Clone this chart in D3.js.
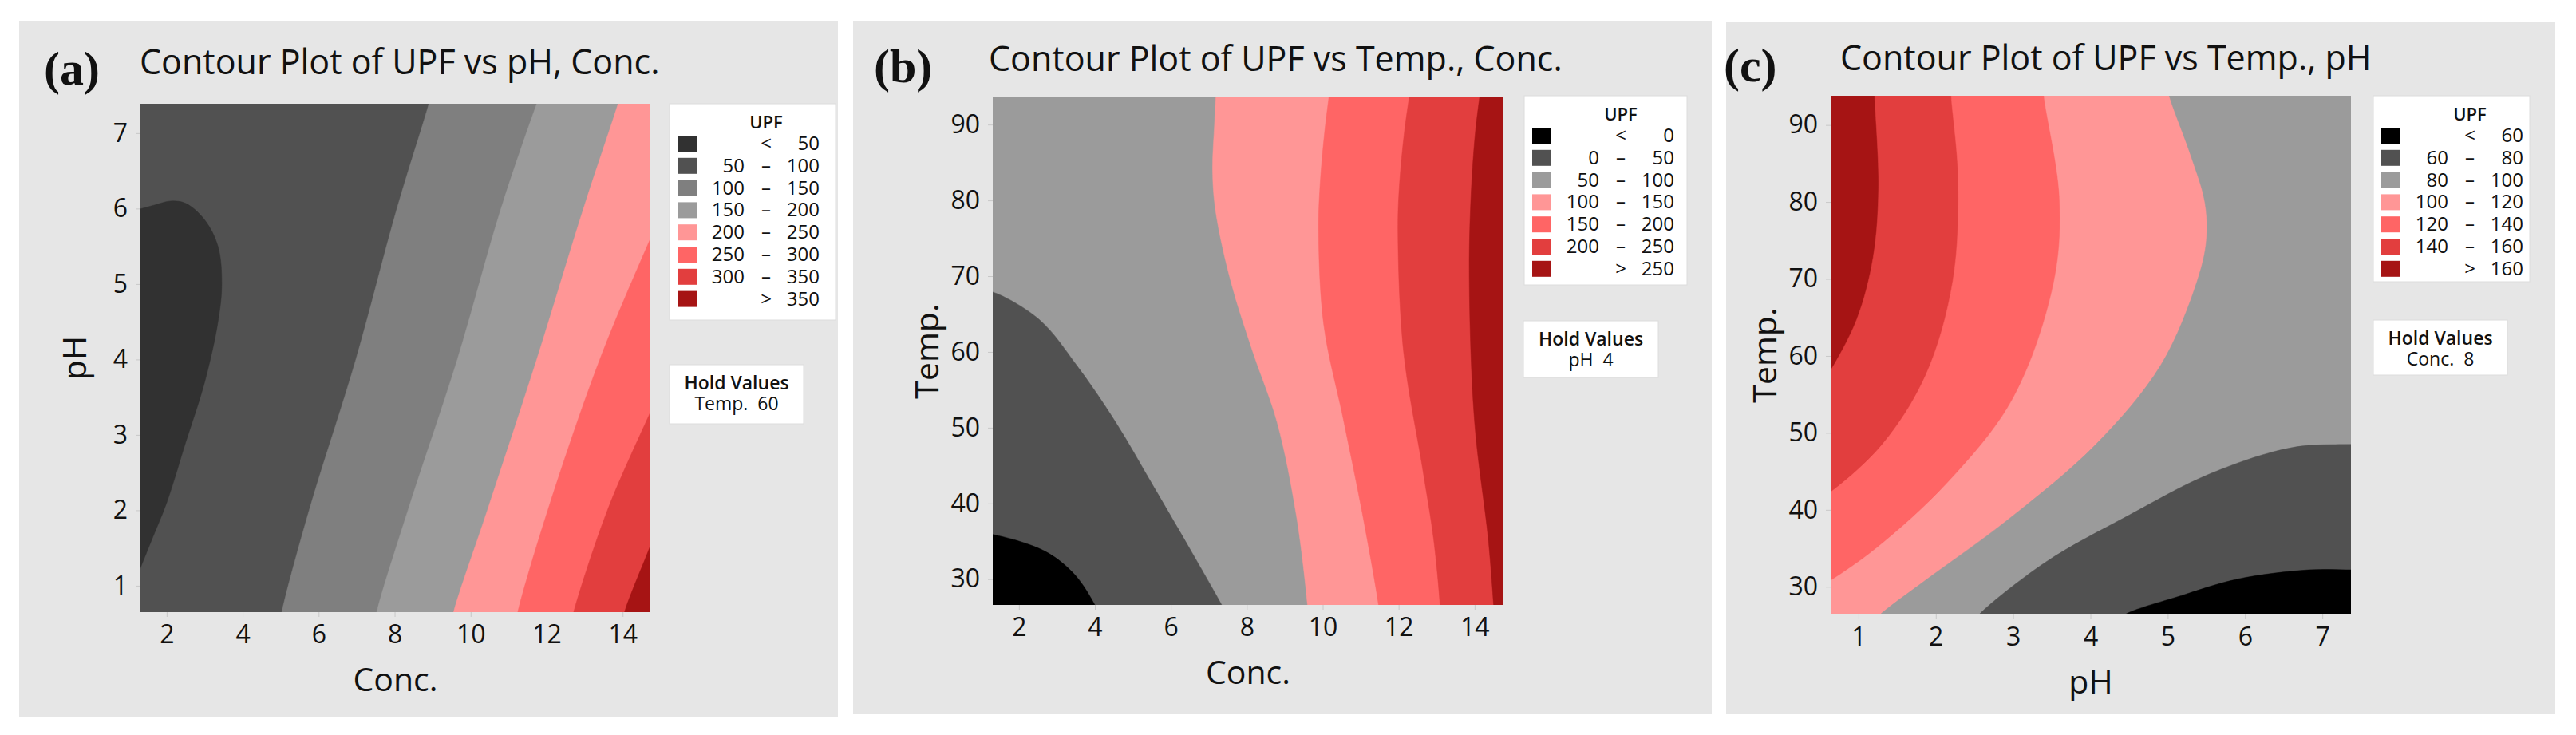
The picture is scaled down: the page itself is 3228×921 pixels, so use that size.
<!DOCTYPE html>
<html><head><meta charset="utf-8">
<script src="https://cdn.jsdelivr.net/npm/d3@7"></script>
<style>body{margin:0;background:#fff}svg text{font-family:"Open Sans","Noto Sans",sans-serif;fill:#111}</style>
</head><body><svg id="c" width="3228" height="921"></svg>
<script>
// ---------- DATA ----------
const titlesA = ["(a)", "Contour Plot of UPF vs pH, Conc."];
const titlesB = ["(b)", "Contour Plot of UPF vs Temp., Conc."];
const titlesC = ["(c)", "Contour Plot of UPF vs Temp., pH"];
const levelsA = [["","<","50"],["50","–","100"],["100","–","150"],["150","–","200"],["200","–","250"],["250","–","300"],["300","–","350"],["",">","350"]];
const levelsB = [["","<","0"],["0","–","50"],["50","–","100"],["100","–","150"],["150","–","200"],["200","–","250"],["",">","250"]];
const levelsC = [["","<","60"],["60","–","80"],["80","–","100"],["100","–","120"],["120","–","140"],["140","–","160"],["",">","160"]];
const colorsA = ["#313131","#515151","#7f7f7f","#9b9b9b","#ff9696","#ff6565","#e23e3e","#a61414"];
const colorsB = ["#000000","#515151","#9b9b9b","#ff9696","#ff6565","#e23e3e","#a61414"];
const colorsC = ["#000000","#515151","#9b9b9b","#ff9696","#ff6565","#e23e3e","#a61414"];
const holdA = ["Temp.  60"], holdB = ["pH  4"], holdC = ["Conc.  8"];
const xTicksA = [2,4,6,8,10,12,14], yTicksA = [1,2,3,4,5,6,7];
const xTicksB = [2,4,6,8,10,12,14], yTicksB = [30,40,50,60,70,80,90];
const xTicksC = [1,2,3,4,5,6,7],    yTicksC = [30,40,50,60,70,80,90];
const domainA = [[1.31,14.73],[0.65,7.39]];
const domainB = [[1.31,14.76],[26.6,93.6]];
const domainC = [[0.64,7.37],[26.4,93.8]];
// contour bands: base level, then polygons [level, boundary points, closing corners]
const baseA = 1;
const bandsA = [
 [0, [[1.2,1.1],[1.6,1.6],[2.0,2.1],[2.5,2.9],[3.0,3.7],[3.35,4.5],[3.45,5.0],[3.35,5.5],[3.0,5.85],[2.5,6.07],[2.1,6.1],[1.7,6.05],[1.2,5.98]], [[0,5.98],[0,1.1]]],
 [2, [[4.95,0.4],[5.03,0.65],[5.75,2],[6.98,4],[8.06,6],[8.9,7.39],[9.0,7.6]], [[20,7.6],[20,0.4]]],
 [3, [[7.45,0.4],[7.53,0.65],[8.35,2],[9.65,4],[10.8,6],[11.74,7.39],[11.9,7.6]], [[20,7.6],[20,0.4]]],
 [4, [[9.45,0.4],[9.55,0.65],[10.44,2],[11.74,4],[12.97,6],[13.88,7.39],[14.0,7.6]], [[20,7.6],[20,0.4]]],
 [5, [[11.15,0.4],[11.24,0.65],[12.03,2],[13.4,4],[14.73,5.6],[15.0,5.9]], [[20,5.9],[20,0.4]]],
 [6, [[12.6,0.4],[12.71,0.65],[13.6,2],[14.73,3.3],[15.0,3.6]], [[20,3.6],[20,0.4]]],
 [7, [[13.95,0.4],[14.05,0.65],[14.73,1.53],[15.0,1.9]], [[20,1.9],[20,0.4]]]
];
const baseB = 2;
const bandsB = [
 [1, [[1.0,68.0],[1.31,67.9],[2.53,64.3],[3.54,58.1],[4.55,50.7],[5.56,42.1],[6.57,33.4],[7.34,26.6],[7.45,25.5]], [[0,25.5],[0,68]]],
 [0, [[1.0,36.0],[1.31,35.9],[2.68,33.7],[3.47,30.6],[4.0,26.6],[4.1,25.5]], [[0,25.5],[0,36]]],
 [3, [[7.2,95],[7.15,90],[7.1,84],[7.18,78.6],[7.58,69.3],[8.16,60],[8.8,50.7],[9.31,38.3],[9.6,26.6],[9.62,25]], [[20,25],[20,95]]],
 [4, [[10.2,95],[10.05,89],[9.93,82],[9.89,75.9],[10.03,63.5],[10.54,51.2],[11.04,38.8],[11.47,26.6],[11.5,25]], [[20,25],[20,95]]],
 [5, [[12.32,95],[12.15,89],[12.02,82],[11.98,75.9],[12.13,60],[12.63,44.6],[12.92,35.3],[13.09,26.6],[13.1,25]], [[20,25],[20,95]]],
 [6, [[14.17,95],[14.02,89],[13.9,80],[13.86,69.3],[14.0,50.7],[14.36,35.3],[14.5,26.6],[14.52,25]], [[20,25],[20,95]]]
];
const baseC = 6;
const bandsC = [
 [5, [[1.21,95],[1.21,93.8],[1.26,81.9],[1.19,72.8],[0.98,64.8],[0.64,58.1],[0.5,56]], [[0.5,20],[10,20],[10,95]]],
 [4, [[2.2,95],[2.2,93.8],[2.29,83],[2.22,69.7],[1.87,57.5],[1.3,48.4],[0.64,42.3],[0.5,41.5]], [[0.5,20],[10,20],[10,95]]],
 [3, [[3.4,95],[3.4,93.8],[3.6,80.7],[3.53,69.7],[3.0,54.5],[2.15,43.5],[1.23,35],[0.64,30.8],[0.5,30]], [[0.5,20],[10,20],[10,95]]],
 [2, [[5.0,95],[5.02,93.8],[5.3,86],[5.48,80],[5.5,75],[5.38,69.7],[4.91,58.8],[4.06,48.4],[2.93,38.7],[1.86,30.8],[1.28,26.4],[1.2,25.5]], [[1.2,20],[10,20],[10,95]]],
 [1, [[2.5,25.5],[2.56,26.4],[3.42,33.2],[4.48,39.2],[5.55,44.7],[6.61,48.1],[7.37,48.5],[7.6,48.5]], [[10,48.5],[10,20],[2.5,20]]],
 [0, [[4.4,25.8],[4.45,26.4],[5.19,28.9],[5.9,31],[6.82,32.2],[7.37,32.2],[7.6,32.2]], [[10,32.2],[10,20],[4.4,20]]]
];

// ---------- LAYOUT ----------
const panels = [
 {bg:[24,26,1050,898], plot:[176,130,815,767], leg:[839,130,208,271], holdBox:[839,457,168,74], lab:[55,106], title:[175,93],
  titles:titlesA, levels:levelsA, colors:colorsA, hold:holdA, xt:xTicksA, yt:yTicksA, dom:domainA, base:baseA, bands:bandsA, xl:"Conc.", yl:"pH"},
 {bg:[1069,26,2145,895], plot:[1244,122,1884,758], leg:[1910,120,204,237], holdBox:[1909,402,169,71], lab:[1095,103], title:[1239,89],
  titles:titlesB, levels:levelsB, colors:colorsB, hold:holdB, xt:xTicksB, yt:yTicksB, dom:domainB, base:baseB, bands:bandsB, xl:"Conc.", yl:"Temp."},
 {bg:[2163,28,3202,895], plot:[2294,120,2946,770], leg:[2974,120,196,233], holdBox:[2974,401,168,69], lab:[2160,102], title:[2306,88],
  titles:titlesC, levels:levelsC, colors:colorsC, hold:holdC, xt:xTicksC, yt:yTicksC, dom:domainC, base:baseC, bands:bandsC, xl:"pH", yl:"Temp."}
];

const svg = d3.select("#c");
panels.forEach((p,i)=>{
  const g = svg.append("g");
  g.append("rect").attr("x",p.bg[0]).attr("y",p.bg[1]).attr("width",p.bg[2]-p.bg[0]).attr("height",p.bg[3]-p.bg[1]).attr("fill","#e6e6e6");
  const [x0,y0,x1,y1] = p.plot;
  const x = d3.scaleLinear().domain(p.dom[0]).range([x0,x1]);
  const y = d3.scaleLinear().domain(p.dom[1]).range([y1,y0]);
  const cid = "clip"+i;
  g.append("clipPath").attr("id",cid).append("rect").attr("x",x0).attr("y",y0).attr("width",x1-x0).attr("height",y1-y0);
  const pg = g.append("g").attr("clip-path",`url(#${cid})`);
  pg.append("rect").attr("x",x0).attr("y",y0).attr("width",x1-x0).attr("height",y1-y0).attr("fill",p.colors[p.base]);
  const line = d3.line().x(d=>x(d[0])).y(d=>y(d[1])).curve(d3.curveCatmullRom.alpha(0.5));
  p.bands.forEach(([lv,pts,corners])=>{
    let dstr = line(pts) + corners.map(c=>`L${x(c[0])},${y(c[1])}`).join("") + "Z";
    pg.append("path").attr("d",dstr).attr("fill",p.colors[lv]).attr("stroke",p.colors[lv]).attr("stroke-width",0.5);
  });
  const fmt = d3.format("d");
  const xa = g.append("g").attr("transform",`translate(0,${y1})`).call(d3.axisBottom(x).tickValues(p.xt).tickFormat(fmt).tickSize(6).tickPadding(10));
  const ya = g.append("g").attr("transform",`translate(${x0},0)`).call(d3.axisLeft(y).tickValues(p.yt).tickFormat(fmt).tickSize(6).tickPadding(10));
  [xa,ya].forEach(a=>{a.select(".domain").remove();a.selectAll("line").attr("stroke","#c8c8c8");
    a.selectAll("text").attr("font-size",32).attr("fill","#111").style("font-family","Open Sans");});
  g.append("text").attr("x",(x0+x1)/2).attr("y",y1+99).attr("text-anchor","middle").attr("font-size",41).text(p.xl);
  g.append("text").attr("transform",`translate(${x0-68},${(y0+y1)/2}) rotate(-90)`).attr("text-anchor","middle").attr("font-size",41).text(p.yl);
  g.append("text").attr("x",p.lab[0]).attr("y",p.lab[1]).attr("font-size",60).attr("font-weight","bold")
    .style("font-family","'Liberation Serif','DejaVu Serif',serif").text(p.titles[0]);
  g.append("text").attr("x",p.title[0]).attr("y",p.title[1]).attr("font-size",43).text(p.titles[1]);
  const [lx,ly,lw,lh] = p.leg;
  g.append("rect").attr("x",lx).attr("y",ly).attr("width",lw).attr("height",lh).attr("fill","#fff").attr("stroke","#dcdcdc");
  g.append("text").attr("x",lx+121).attr("y",ly+31).attr("text-anchor","middle").attr("font-size",22).attr("font-weight",600).text("UPF");
  p.levels.forEach((lv,k)=>{
    const cy = ly+50+k*27.8;
    g.append("rect").attr("x",lx+10).attr("y",cy-10).attr("width",24).attr("height",20).attr("fill",p.colors[k]);
    g.append("text").attr("x",lx+94).attr("y",cy+8).attr("text-anchor","end").attr("font-size",24).text(lv[0]);
    g.append("text").attr("x",lx+121).attr("y",cy+8).attr("text-anchor","middle").attr("font-size",24).text(lv[1]);
    g.append("text").attr("x",lx+188).attr("y",cy+8).attr("text-anchor","end").attr("font-size",24).text(lv[2]);
  });
  const [hx,hy,hw,hh] = p.holdBox;
  g.append("rect").attr("x",hx).attr("y",hy).attr("width",hw).attr("height",hh).attr("fill","#fff").attr("stroke","#dcdcdc");
  g.append("text").attr("x",hx+hw/2).attr("y",hy+31).attr("text-anchor","middle").attr("font-size",23).attr("font-weight",600).text("Hold Values");
  g.append("text").attr("x",hx+hw/2).attr("y",hy+57).attr("text-anchor","middle").attr("font-size",23).attr("xml:space","preserve").text(p.hold[0]);
});
</script></body></html>
